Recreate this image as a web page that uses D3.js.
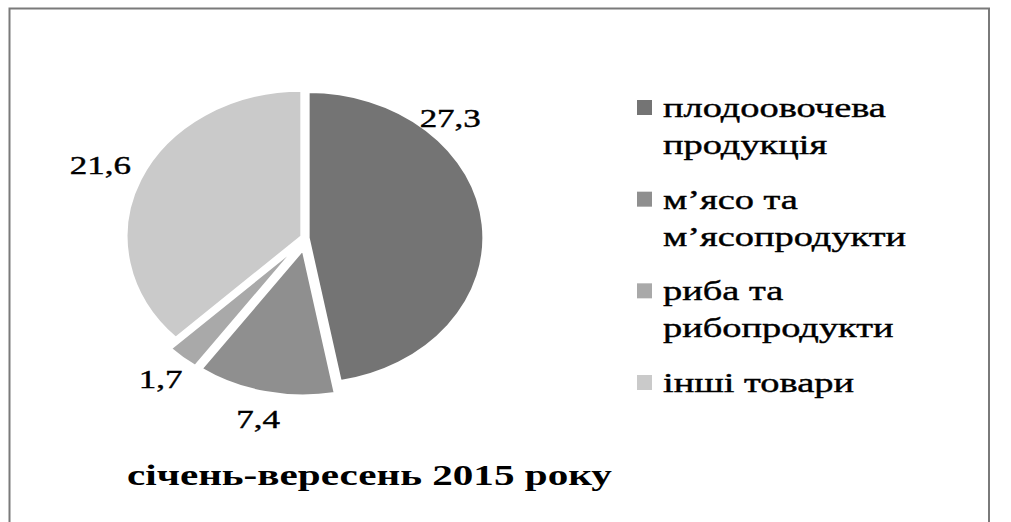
<!DOCTYPE html>
<html><head><meta charset="utf-8">
<script src="https://cdn.jsdelivr.net/npm/d3@7"></script>
<style>body{margin:0;background:#fff}svg{display:block}</style></head>
<body><svg id="chart" width="1011" height="522"></svg>
<script>
// ---- data ----
const categories = ["плодоовочева продукція", "м’ясо та м’ясопродукти", "риба та рибопродукти", "інші товари"];
const legendLines = [["плодоовочева", "продукція"], ["м’ясо та", "м’ясопродукти"], ["риба та", "рибопродукти"], ["інші товари"]];
const values = [27.3, 7.4, 1.7, 21.6];
const valueLabels = ["27,3", "7,4", "1,7", "21,6"];
const chartTitle = "січень-вересень 2015 року";

// ---- style / layout ----
const colors = ["#747474", "#8f8f8f", "#a9a9a9", "#cacaca"];
const explode = [2, 12, 12, 4];
const cx = 306, cy = 238, r = 146, sx = 1.2;
const labelR = 186;
const labelOverride = {0: {angle: 45, r: 170}};
const labelScaleX = 1.4;

const svg = d3.select("#chart");
svg.append("rect").attr("x", 9.5).attr("y", 8.5).attr("width", 979.5).attr("height", 600)
  .attr("fill", "none").attr("stroke", "#7a7a7a").attr("stroke-width", 2);

const pie = d3.pie().sort(null).value(d => d)(values);
const arc = d3.arc().innerRadius(0).outerRadius(r);
const color = d3.scaleOrdinal().domain(d3.range(values.length)).range(colors);

const g = svg.append("g").attr("transform", `translate(${cx},${cy}) scale(${sx},1)`);
g.selectAll("path").data(pie).join("path")
  .attr("d", arc)
  .attr("fill", (d, i) => color(i))
  .attr("stroke", "#fff").attr("stroke-width", 2.5)
  .attr("vector-effect", "non-scaling-stroke")
  .attr("transform", (d, i) => {
    const m = (d.startAngle + d.endAngle) / 2;
    return `translate(${Math.sin(m) * explode[i]},${-Math.cos(m) * explode[i]})`;
  });

svg.selectAll("text.lbl").data(pie).join("text").attr("class", "lbl")
  .attr("transform", (d, i) => {
    const o = labelOverride[i];
    const a = o ? o.angle * Math.PI / 180 : (d.startAngle + d.endAngle) / 2;
    const rr = o ? o.r : labelR;
    return `translate(${cx + Math.sin(a) * rr * sx},${cy - Math.cos(a) * rr}) scale(${labelScaleX},1)`;
  })
  .attr("dy", "0.35em").attr("text-anchor", "middle")
  .attr("font-family", "Liberation Serif, serif").attr("font-size", 25).attr("fill", "#000")
  .attr("stroke", "#000").attr("stroke-width", 0.4)
  .text((d, i) => valueLabels[i]);

// legend
const legendY = d3.scaleLinear().domain([0, 3]).range([117, 392]);
const lg = svg.append("g");
const items = lg.selectAll("g").data(categories).join("g");
items.append("rect").attr("x", 637).attr("y", (d, i) => legendY(i) - 17)
  .attr("width", 15).attr("height", 15).attr("fill", (d, i) => color(i));
const texts = [];
items.each(function (d, i) {
  legendLines[i].forEach((line, k) => {
    const t = d3.select(this).append("text")
      .attr("font-family", "Liberation Serif, serif").attr("font-size", 27).attr("fill", "#000")
      .attr("stroke", "#000").attr("stroke-width", 0.4)
      .text(line);
    texts.push({t, y: legendY(i) + k * 37});
  });
});
const w0 = texts[0].t.node().getComputedTextLength();
const lsx = 223 / w0;
texts.forEach(({t, y}) => t.attr("transform", `translate(663,${y}) scale(${lsx},1)`));

// title
const tt = svg.append("text").attr("font-family", "Liberation Serif, serif").attr("font-weight", "bold")
  .attr("font-size", 30).attr("fill", "#000").text(chartTitle);
const tw = tt.node().getComputedTextLength();
tt.attr("transform", `translate(127,485) scale(${485 / tw},1)`);
</script>
</body></html>
